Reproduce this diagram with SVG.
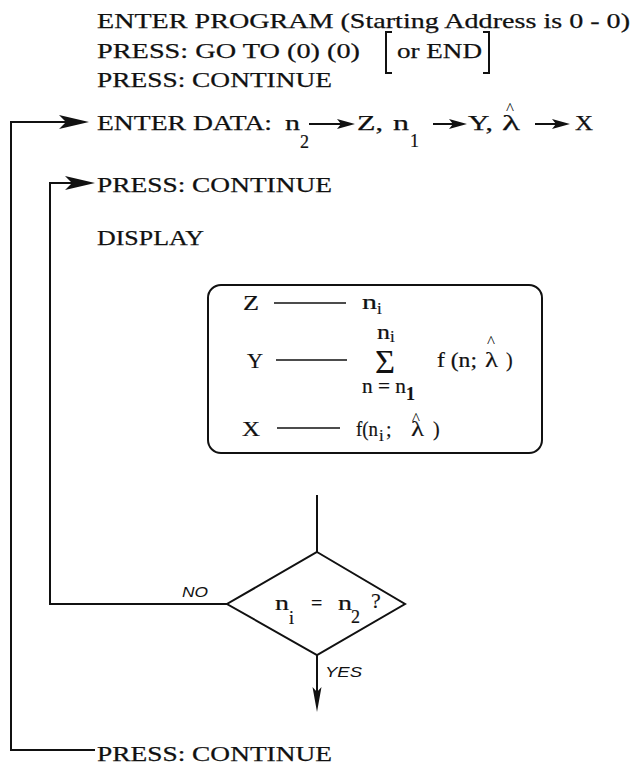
<svg xmlns="http://www.w3.org/2000/svg" width="635" height="765" viewBox="0 0 635 765">
<style>
.t{font-family:"Liberation Serif","Times New Roman",serif;font-size:22px;fill:#111;stroke:#111;stroke-width:0.25}
.m{font-family:"Liberation Serif","Times New Roman",serif;font-size:20px;fill:#111;stroke:#111;stroke-width:0.2}
.s{font-family:"Liberation Serif","Times New Roman",serif;font-size:18px;fill:#111;stroke:#111;stroke-width:0.2}
.s17{font-size:17px}
.q{font-size:22px;stroke-width:0.1}
.sig{font-size:34px;stroke-width:0.1}
.hat{font-family:"Liberation Serif","Times New Roman",serif;font-size:17px;fill:#111}
.lbl{font-family:"Liberation Sans",Arial,sans-serif;font-style:italic;font-size:15px;fill:#111}
.ln{stroke:#111;stroke-width:2;fill:none}
.dash{stroke:#111;stroke-width:1.6;fill:none}
</style>
<defs>
<marker id="big" markerUnits="userSpaceOnUse" markerWidth="32" markerHeight="16" refX="22" refY="7" orient="auto" overflow="visible">
<path d="M0,0 L30,7 L0,14 L7,7 z" fill="#111"/>
</marker>
<marker id="small" markerUnits="userSpaceOnUse" markerWidth="20" markerHeight="12" refX="12" refY="5" orient="auto" overflow="visible">
<path d="M0,0 L18,5 L0,10 L4,5 z" fill="#111"/>
</marker>
<marker id="down" markerUnits="userSpaceOnUse" markerWidth="28" markerHeight="10" refX="17" refY="4.5" orient="auto" overflow="visible">
<path d="M0,0 L25,4.5 L0,9 L5,4.5 z" fill="#111"/>
</marker>
</defs>
<rect width="635" height="765" fill="#fff"/>

<g id="enter-program">
<text class="t" x="97" y="28" textLength="533" lengthAdjust="spacingAndGlyphs">ENTER PROGRAM (Starting Address is 0 - 0)</text>
</g>

<g id="press-goto">
<text class="t" x="97" y="58" textLength="263" lengthAdjust="spacingAndGlyphs">PRESS:  GO TO (0) (0)</text>
<path class="ln" d="M392,32 H386 V73 H392"/>
<text class="t" x="397" y="58" textLength="85" lengthAdjust="spacingAndGlyphs">or END</text>
<path class="ln" d="M483,32 H489 V73 H483"/>
</g>

<g id="press-continue-1">
<text class="t" x="97" y="87" textLength="235" lengthAdjust="spacingAndGlyphs">PRESS:  CONTINUE</text>
</g>

<g id="enter-data">
<text class="t" x="97" y="130" textLength="175" lengthAdjust="spacingAndGlyphs">ENTER DATA:</text>
<text class="t" x="285" y="130" textLength="15" lengthAdjust="spacingAndGlyphs">n</text>
<text class="s" x="300" y="148">2</text>
<text class="t" x="357" y="130" textLength="26" lengthAdjust="spacingAndGlyphs">Z,</text>
<text class="t" x="393" y="130" textLength="16" lengthAdjust="spacingAndGlyphs">n</text>
<text class="s" x="410" y="147">1</text>
<text class="t" x="468" y="130" textLength="25" lengthAdjust="spacingAndGlyphs">Y,</text>
<text class="t" x="502" y="130" textLength="18" lengthAdjust="spacingAndGlyphs">λ</text>
<text class="hat" x="506" y="114">^</text>
<text class="t" x="575" y="130" textLength="18" lengthAdjust="spacingAndGlyphs">X</text>
</g>

<g id="press-continue-2">
<text class="t" x="97" y="192" textLength="235" lengthAdjust="spacingAndGlyphs">PRESS:  CONTINUE</text>
</g>

<g id="display">
<text class="t" x="97" y="245" textLength="107" lengthAdjust="spacingAndGlyphs">DISPLAY</text>
</g>

<g id="display-box">
<rect class="ln" x="208" y="285" width="334" height="168" rx="13"/>
<text class="m" x="243" y="310" textLength="16" lengthAdjust="spacingAndGlyphs">Z</text>
<line class="dash" x1="274" y1="303" x2="346" y2="303"/>
<text class="m" x="362" y="309" textLength="15" lengthAdjust="spacingAndGlyphs">n</text>
<text class="s s17" x="377" y="314">i</text>

<text class="m" x="247" y="368" textLength="16" lengthAdjust="spacingAndGlyphs">Y</text>
<line class="dash" x1="276" y1="360" x2="347" y2="360"/>
<text class="m" x="377" y="339" textLength="13" lengthAdjust="spacingAndGlyphs">n</text>
<text class="s s17" x="390" y="342">i</text>
<text class="m sig" x="375" y="373" textLength="20" lengthAdjust="spacingAndGlyphs">Σ</text>
<text class="m" x="362" y="393" textLength="44" lengthAdjust="spacingAndGlyphs">n = n</text>
<text class="s" x="406" y="400" font-weight="bold">1</text>
<text class="m" x="437" y="367" textLength="40" lengthAdjust="spacingAndGlyphs">f (n;</text>
<text class="m" x="485" y="367" textLength="13" lengthAdjust="spacingAndGlyphs">λ</text>
<text class="hat" x="487" y="347">^</text>
<text class="m" x="506" y="367">)</text>

<text class="m" x="242" y="436" textLength="18" lengthAdjust="spacingAndGlyphs">X</text>
<line class="dash" x1="277" y1="428" x2="340" y2="428"/>
<text class="m" x="356" y="436" textLength="22" lengthAdjust="spacingAndGlyphs">f(n</text>
<text class="s s17" x="379" y="441">i</text>
<text class="m" x="386" y="436">;</text>
<text class="m" x="411" y="436" textLength="13" lengthAdjust="spacingAndGlyphs">λ</text>
<text class="hat" x="412" y="424">^</text>
<text class="m" x="433" y="436">)</text>
</g>

<g id="decision">
<polygon class="ln" points="317,552 405,604 317,655 227,604"/>
<text class="m" x="275" y="610" textLength="14" lengthAdjust="spacingAndGlyphs">n</text>
<text class="s" x="289" y="624">i</text>
<text class="m" x="311" y="610">=</text>
<text class="m" x="338" y="610" textLength="14" lengthAdjust="spacingAndGlyphs">n</text>
<text class="s" x="351" y="623">2</text>
<text class="m q" x="371" y="608">?</text>
</g>

<g id="press-continue-3">
<text class="t" x="97" y="761" textLength="235" lengthAdjust="spacingAndGlyphs">PRESS:  CONTINUE</text>
</g>

<g id="connectors">
<path class="ln" d="M95,750 H11 V122 H81" marker-end="url(#big)"/>
<path class="ln" d="M227,604 H50 V183 H87" marker-end="url(#big)"/>
<path class="ln" d="M309,124 H349" marker-end="url(#small)"/>
<path class="ln" d="M433,124 H461" marker-end="url(#small)"/>
<path class="ln" d="M535,124 H564" marker-end="url(#small)"/>
<path class="ln" d="M317,495 V552"/>
<path class="ln" d="M317,655 V704" marker-end="url(#down)"/>
<text class="lbl" x="182" y="597" textLength="26" lengthAdjust="spacingAndGlyphs">NO</text>
<text class="lbl" x="325" y="677" textLength="37" lengthAdjust="spacingAndGlyphs">YES</text>
</g>
</svg>
